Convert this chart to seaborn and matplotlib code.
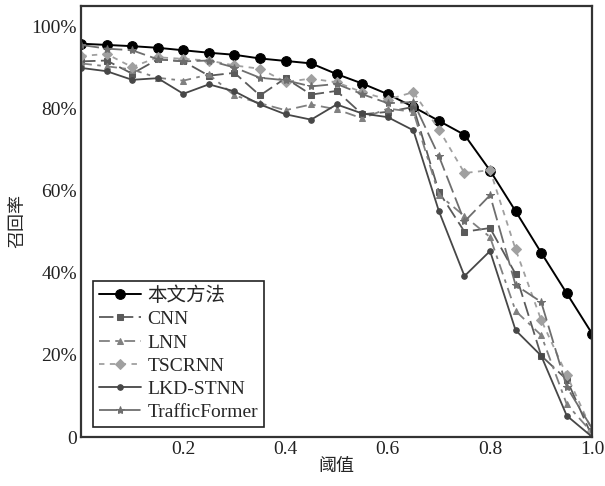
import numpy as np
import pandas as pd
import matplotlib
matplotlib.use("Agg")
import matplotlib.pyplot as plt
import seaborn as sns
from matplotlib.ticker import FuncFormatter

thresholds = [0.0, 0.05, 0.1, 0.15, 0.2, 0.25, 0.3, 0.35, 0.4, 0.45, 0.5,
              0.55, 0.6, 0.65, 0.7, 0.75, 0.8, 0.85, 0.9, 0.95, 1.0]

ours = [95.8, 95.5, 95.2, 94.8, 94.2, 93.6, 93.1, 92.2, 91.6, 91.0, 88.4,
        86.1, 83.5, 80.4, 77.0, 73.6, 64.9, 55.0, 44.9, 35.0, 25.1]
cnn = [91.5, 91.7, 88.5, 92.0, 91.5, 88.0, 88.7, 83.2, 87.4, 83.4, 84.3,
       78.6, 79.2, 80.4, 59.7, 50.0, 50.9, 39.7, 19.8, 14.0, 0.0]
lnn = [91.0, 90.3, 89.5, 87.5, 86.8, 88.3, 83.2, 81.3, 79.6, 81.0, 79.8,
       77.6, 80.0, 79.2, 59.0, 53.8, 48.7, 30.7, 24.8, 8.0, 1.0]
tscrnn = [92.8, 93.3, 90.1, 92.5, 92.1, 91.7, 90.5, 89.7, 86.5, 87.3, 86.4,
          84.0, 82.2, 84.0, 74.9, 64.3, 65.0, 45.7, 28.5, 15.1, 1.5]
lkd = [89.9, 89.1, 87.0, 87.4, 83.6, 85.9, 84.2, 81.0, 78.6, 77.3, 81.0,
       78.8, 77.9, 74.7, 55.0, 39.2, 45.3, 26.0, 19.8, 5.2, 0.0]
trafficformer = [95.5, 94.6, 94.2, 92.0, 91.5, 91.7, 90.0, 87.5, 86.9, 85.4, 86.0,
                 83.5, 81.3, 81.6, 68.4, 52.5, 58.9, 37.0, 32.9, 12.2, 2.0]

labels = ["本文方法", "CNN", "LNN", "TSCRNN", "LKD-STNN", "TrafficFormer"]
series = [ours, cnn, lnn, tscrnn, lkd, trafficformer]

styles = {
    "本文方法": dict(color="#000000", marker="o", ms=7, dashes=None, lw=1.4),
    "CNN": dict(color="#5a5a5a", marker="s", ms=5, dashes=(8, 3), lw=1.3),
    "LNN": dict(color="#808080", marker="^", ms=5, dashes=(6, 3, 2, 3), lw=1.3),
    "TSCRNN": dict(color="#a0a0a0", marker="D", ms=5, dashes=(3, 3), lw=1.3),
    "LKD-STNN": dict(color="#474747", marker="o", ms=4, dashes=None, lw=1.3),
    "TrafficFormer": dict(color="#6e6e6e", marker="*", ms=6, dashes=(10, 3), lw=1.3),
}

sns.set_style("white")
plt.rcParams["font.family"] = ["Liberation Serif", "Noto Sans CJK SC"]
plt.rcParams["axes.unicode_minus"] = False

fig = plt.figure(figsize=(6.05, 4.86), dpi=100)
ax = fig.add_axes([0.134, 0.1008, 0.845, 0.887])

for lab, ys in zip(labels, series):
    st = styles[lab]
    df = pd.DataFrame({"x": thresholds, "y": ys})
    sns.lineplot(data=df, x="x", y="y", ax=ax, color=st["color"], marker=st["marker"],
                 markersize=st["ms"], markeredgecolor=st["color"], linewidth=st["lw"],
                 label=lab)
    line = ax.get_lines()[-1]
    if st["dashes"] is not None:
        line.set_dashes(st["dashes"])

ax.set_xlim(0, 1.0)
ax.set_ylim(0, 105)
ax.set_xticks([0.2, 0.4, 0.6, 0.8, 1.0])
ax.set_xticklabels(["0.2", "0.4", "0.6", "0.8", "1.0"])
ax.set_yticks([0, 20, 40, 60, 80, 100])
ax.yaxis.set_major_formatter(FuncFormatter(lambda v, p: "0" if v == 0 else f"{int(v)}%"))
ax.tick_params(direction="in", length=5, width=1.3, labelsize=14, colors="#222222",
               labelcolor="#222222", pad=3)
for sp in ax.spines.values():
    sp.set_visible(True)
    sp.set_linewidth(1.6)
    sp.set_color("#333333")

ax.set_xlabel("阈值", fontsize=13, labelpad=0)
ax.set_ylabel("召回率", fontsize=13, labelpad=4)

leg = ax.legend(loc="lower left", bbox_to_anchor=(0.023, 0.023), fontsize=14,
                frameon=True, fancybox=False, edgecolor="#222222", framealpha=1,
                handlelength=2.2, borderpad=0.3, labelspacing=0.29, handletextpad=0.3,
                borderaxespad=0)
leg.get_frame().set_linewidth(1.2)

fig.savefig("out.png", dpi=100)
